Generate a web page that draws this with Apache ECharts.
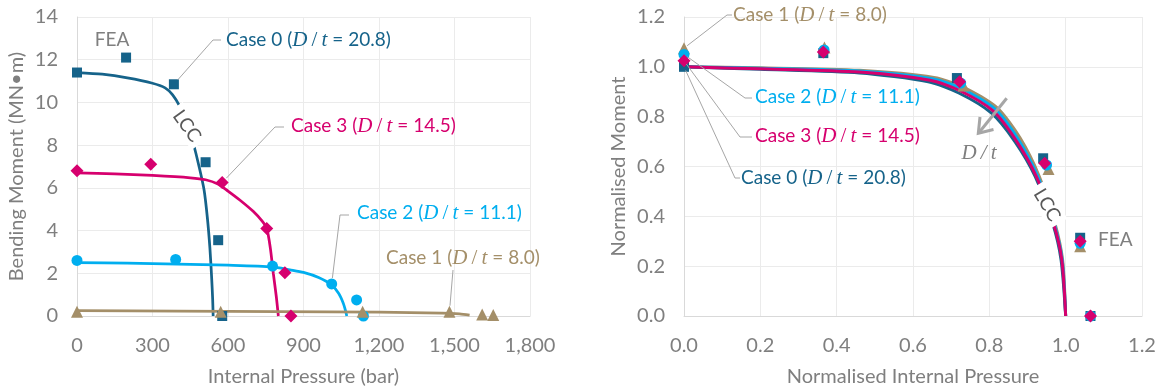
<!DOCTYPE html>
<html><head><meta charset="utf-8">
<script src="https://cdn.jsdelivr.net/npm/echarts@6/dist/echarts.min.js"></script>
<style>html,body{margin:0;padding:0;background:#fff}#c{width:1160px;height:387px}</style>
</head><body><div id="c"></div>
<script>
// ---------- colours ----------
const C0 = '#16638a', C1 = '#a48f69', C2 = '#00aeef', C3 = '#d6006e';
const GRAY = '#7f7f7f';

// ---------- left chart: absolute values (bar, MN·m) ----------
const pressTicks = [0, 300, 600, 900, 1200, 1500, 1800];
const lcc0 = [[0,11.4],[100,11.32],[200,11.15],[300,10.9],[350,10.68],[380,10.35],[409,9.8],[440,9.0],[462,8.1],[485,7.0],[505,5.9],[518,4.6],[528,3.2],[535,1.8],[539,0.8],[541,0]];
const lcc3 = [[0,6.7],[150,6.66],[300,6.58],[450,6.47],[511,6.38],[560,6.18],[600,5.85],[648,5.42],[700,4.9],[735,4.45],[754,4.1],[768,3.2],[780,2.0],[792,0.9],[800,0]];
const lcc2 = [[0,2.5],[200,2.47],[400,2.43],[600,2.38],[777,2.3],[846,2.16],[900,2.04],[960,1.8],[1012,1.45],[1040,1.05],[1058,0.6],[1067,0.25],[1072,0]];
const lcc1 = [[0,0.25],[400,0.23],[800,0.21],[1200,0.18],[1450,0.14],[1520,0.1],[1560,0.04]];
const fea0 = [[0,11.4],[195,12.1],[385,10.85],[511,7.2],[561,3.55],[577,0]];
const fea3 = [[0,6.8],[293,7.1],[577,6.25],[754,4.1],[826,2.03],[850,0]];
const fea2 = [[0,2.6],[392,2.65],[777,2.34],[1012,1.5],[1111,0.75],[1138,0]];
const fea1 = [[0,0.2],[571,0.2],[1135,0.2],[1480,0.2],[1610,0.07],[1654,0.05]];

// ---------- right chart: normalised values ----------
const nLcc0 = [[0,1.0],[0.2,0.99],[0.46,0.975],[0.64,0.94],[0.72,0.895],[0.805,0.815],[0.867,0.7],[0.92,0.56],[0.966,0.372],[0.988,0.225],[1.0,0]];
const nLcc3 = [[0,1.0],[0.2,0.992],[0.46,0.979],[0.645,0.946],[0.722,0.905],[0.81,0.823],[0.87,0.705],[0.923,0.56],[0.968,0.372],[0.99,0.225],[1.0,0]];
const nLcc2 = [[0,1.0],[0.2,0.994],[0.46,0.983],[0.65,0.952],[0.728,0.912],[0.815,0.83],[0.875,0.71],[0.927,0.56],[0.97,0.372],[0.991,0.225],[1.0,0]];
const nLcc1 = [[0,1.0],[0.2,0.996],[0.46,0.986],[0.655,0.957],[0.733,0.918],[0.82,0.836],[0.88,0.716],[0.931,0.56],[0.972,0.372],[0.992,0.225],[1.0,0]];
const nFea0 = [[0,1.0],[0.365,1.055],[0.715,0.955],[0.941,0.633],[1.038,0.314],[1.065,0]];
const nFea3 = [[0,1.024],[0.365,1.06],[0.722,0.94],[0.945,0.613],[1.038,0.3],[1.065,0]];
const nFea2 = [[0,1.05],[0.367,1.068],[0.725,0.935],[0.95,0.606],[1.038,0.292],[1.065,0]];
const nFea1 = [[0,1.075],[0.368,1.078],[0.732,0.925],[0.955,0.59],[1.038,0.28],[1.065,-0.005]];

const caseLabels = {
  c0: ['Case 0 (', ' = 20.8)'],
  c1: ['Case 1 (', ' = 8.0)'],
  c2: ['Case 2 (', ' = 11.1)'],
  c3: ['Case 3 (', ' = 14.5)']
};

const FONT = 'Lato';
const FS = 20;      // axis text
const AFS = 19;     // annotation text

function valAxis(common) {
  return Object.assign({
    type: 'value',
    axisLine: { show: true, lineStyle: { color: '#d9d9d9', width: 1 } },
    axisTick: { show: false },
    splitLine: { show: true, lineStyle: { color: '#ebebeb', width: 1 } },
    axisLabel: { color: GRAY, fontSize: FS, fontFamily: FONT, margin: 19 },
    nameLocation: 'middle',
    nameTextStyle: { color: GRAY, fontSize: FS, fontFamily: FONT }
  }, common);
}

function lineS(data, color, xi, w) {
  return { type: 'line', data: data, xAxisIndex: xi, yAxisIndex: xi, smooth: 0.25, showSymbol: false,
    symbol: 'none', lineStyle: { color: color, width: w }, silent: true, z: 2 };
}
function ptS(data, color, sym, size, xi) {
  return { type: 'scatter', data: data, xAxisIndex: xi, yAxisIndex: xi, symbol: sym, symbolSize: size,
    itemStyle: { color: color, opacity: 1 }, silent: true, z: 3 };
}

const option = {
  animation: false,
  backgroundColor: '#fff',
  grid: [
    { left: 77, top: 17, width: 453, height: 299, containLabel: false, outerBoundsMode: 'none' },
    { left: 684, top: 17, width: 458, height: 299, containLabel: false, outerBoundsMode: 'none' }
  ],
  xAxis: [
    valAxis({ gridIndex: 0, min: 0, max: 1800, interval: 300, name: 'Internal Pressure (bar)', nameGap: 51,
      axisLabel: { color: GRAY, fontSize: FS, fontFamily: FONT, margin: 20, formatter: v => v.toLocaleString('en-US') } }),
    valAxis({ gridIndex: 1, min: 0, max: 1.2, interval: 0.2, name: 'Normalised Internal Pressure', nameGap: 51,
      axisLabel: { color: GRAY, fontSize: FS, fontFamily: FONT, margin: 20, formatter: v => v.toFixed(1) } })
  ],
  yAxis: [
    valAxis({ gridIndex: 0, min: 0, max: 14, interval: 2, name: 'Bending Moment (MN\u2022m)', nameGap: 50 }),
    valAxis({ gridIndex: 1, min: 0, max: 1.2, interval: 0.2, name: 'Normalised Moment', nameGap: 55,
      axisLabel: { color: GRAY, fontSize: FS, fontFamily: FONT, margin: 19, formatter: v => v.toFixed(1) } })
  ],
  series: [
    lineS(lcc0, C0, 0, 2.75), lineS(lcc3, C3, 0, 2.75), lineS(lcc2, C2, 0, 2.75), lineS(lcc1, C1, 0, 2.75),
    ptS(fea0, C0, 'rect', 10, 0), ptS(fea3, C3, 'diamond', 13, 0), ptS(fea2, C2, 'circle', 11, 0), ptS(fea1, C1, 'triangle', 12, 0),
    lineS(nLcc1, C1, 1, 3), lineS(nLcc2, C2, 1, 3), lineS(nLcc0, C0, 1, 3), lineS(nLcc3, C3, 1, 3),
    ptS(nFea0, C0, 'rect', 10, 1), ptS(nFea1, C1, 'triangle', 12, 1), ptS(nFea2, C2, 'circle', 11, 1), ptS(nFea3, C3, 'diamond', 13, 1)
  ]
};

const chart = echarts.init(document.getElementById('c'), null, { renderer: 'canvas' });
chart.setOption(option);

function px(g, p) { return chart.convertToPixel({ gridIndex: g }, p); }

function caseText(key, color, x, y) {
  const parts = caseLabels[key];
  return {
    type: 'text', x: x, y: y, z: 60,
    style: {
      text: parts[0] + '{i|D}{s|\u2009/\u2009}{i|t}' + parts[1],
      fill: color, fontSize: AFS, fontFamily: FONT, align: 'left', verticalAlign: 'middle',
      rich: {
        i: { fontFamily: 'Liberation Serif', fontStyle: 'italic', fontSize: 21, fill: color },
        s: { fontFamily: 'Liberation Serif', fontSize: 21, fill: color }
      }
    }
  };
}
function leader(anchor, pts, gap) {
  const a = anchor, b = pts[0];
  const dx = b[0] - a[0], dy = b[1] - a[1], L = Math.hypot(dx, dy);
  const s = [a[0] + dx / L * gap, a[1] + dy / L * gap];
  return { type: 'polyline', z: 55, shape: { points: [s].concat(pts) },
    style: { stroke: '#a6a6a6', lineWidth: 1, fill: null } };
}
function plain(t, x, y, color, opts) {
  return { type: 'text', x: x, y: y, z: 60,
    style: Object.assign({ text: t, fill: color, fontSize: AFS, fontFamily: FONT, align: 'left', verticalAlign: 'middle' }, opts || {}) };
}
function lccLabel(cx, cy, rot) {
  return { type: 'text', x: cx, y: cy, rotation: rot, z: 58,
    style: { text: 'LCC', fill: '#595959', fontSize: AFS, fontFamily: FONT, align: 'center', verticalAlign: 'middle',
      backgroundColor: '#fff', padding: [1, 5] } };
}

const g = [];
// left chart annotations
g.push(plain('FEA', 112, 40, GRAY, { align: 'center' }));
g.push(leader(px(0, fea0[2]), [[213, 40], [221, 40]], 6));
g.push(caseText('c0', C0, 226, 40));
g.push(leader(px(0, fea3[2]), [[275, 127], [284, 127]], 6));
g.push(caseText('c3', C3, 291, 126));
g.push(leader(px(0, fea2[3]), [[340, 215], [349, 215]], 6));
g.push(caseText('c2', C2, 357, 213));
g.push(leader(px(0, fea1[3]), [[453, 270]], 6));
g.push(caseText('c1', C1, 386, 258));
g.push(lccLabel(187, 126, -0.95));
// right chart annotations
g.push(leader(px(1, nFea1[0]), [[727, 15], [732, 15]], 4));
g.push(caseText('c1', C1, 733, 15));
g.push(leader(px(1, nFea2[0]), [[745, 98], [752, 98]], 4));
g.push(caseText('c2', C2, 755, 97));
g.push(leader(px(1, nFea3[0]), [[740, 137], [752, 137]], 4));
g.push(caseText('c3', C3, 755, 136));
g.push(leader(px(1, nFea0[0]), [[735, 178], [740, 178]], 4));
g.push(caseText('c0', C0, 741, 178));
g.push(plain('FEA', 1098, 240, GRAY));
g.push(lccLabel(1047, 205, -1.03));
// D/t arrow
g.push({ type: 'polyline', z: 60, shape: { points: [[1006.7, 98.3], [979.5, 132]] },
  style: { stroke: '#a6a6a6', lineWidth: 3, fill: null } });
g.push({ type: 'polyline', z: 60, shape: { points: [[980, 117], [978.3, 133.3], [993.5, 129.5]] },
  style: { stroke: '#a6a6a6', lineWidth: 3, fill: null, lineJoin: 'miter' } });
g.push({ type: 'text', x: 979, y: 153, z: 60,
  style: { text: 'D\u2009/\u2009t', fill: GRAY, fontSize: 21, fontFamily: 'Liberation Serif', fontStyle: 'italic', align: 'center', verticalAlign: 'middle' } });

chart.setOption({ graphic: { elements: g } });
</script>
</body></html>
